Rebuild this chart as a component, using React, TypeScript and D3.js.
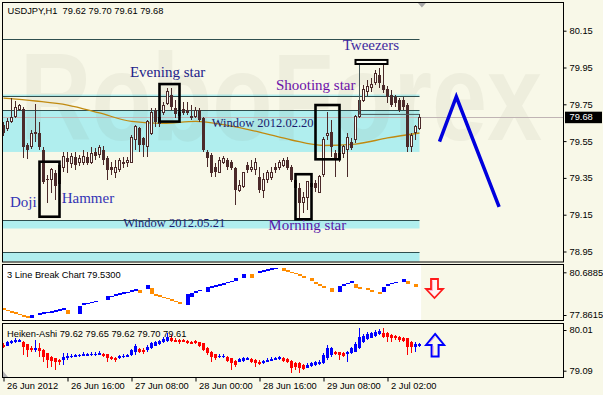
import React, { useRef, useEffect } from 'react';
import * as d3 from 'd3';

const W = 603;
const H = 395;

// USDJPY H1 candles: [open, high, low, close]
const candles: number[][] = [
  [79.638, 79.654, 79.578, 79.594], [79.616, 79.676, 79.605, 79.654], [79.654, 79.784, 79.648, 79.676],
  [79.681, 79.768, 79.676, 79.730], [79.724, 79.752, 79.714, 79.741], [79.724, 79.735, 79.458, 79.518],
  [79.529, 79.540, 79.453, 79.502], [79.518, 79.610, 79.507, 79.589], [79.589, 79.752, 79.545, 79.599],
  [79.594, 79.654, 79.502, 79.518], [79.502, 79.518, 79.317, 79.328], [79.344, 79.366, 79.214, 79.339],
  [79.339, 79.404, 79.268, 79.393], [79.377, 79.393, 79.230, 79.306], [79.317, 79.436, 79.306, 79.420],
  [79.409, 79.491, 79.382, 79.469], [79.458, 79.491, 79.377, 79.436], [79.426, 79.485, 79.404, 79.469],
  [79.464, 79.491, 79.393, 79.420], [79.436, 79.475, 79.415, 79.458], [79.436, 79.502, 79.420, 79.469],
  [79.464, 79.491, 79.420, 79.431], [79.431, 79.518, 79.426, 79.485], [79.491, 79.513, 79.447, 79.469],
  [79.475, 79.529, 79.458, 79.513], [79.502, 79.523, 79.420, 79.447], [79.458, 79.469, 79.339, 79.393],
  [79.409, 79.436, 79.366, 79.393], [79.377, 79.447, 79.350, 79.409], [79.393, 79.458, 79.382, 79.447],
  [79.426, 79.464, 79.404, 79.436], [79.431, 79.464, 79.409, 79.447], [79.436, 79.583, 79.431, 79.567],
  [79.556, 79.638, 79.502, 79.627], [79.621, 79.627, 79.491, 79.529], [79.567, 79.572, 79.464, 79.529],
  [79.518, 79.665, 79.464, 79.654], [79.594, 79.730, 79.583, 79.703], [79.719, 79.730, 79.627, 79.654],
  [79.648, 79.719, 79.627, 79.676], [79.703, 79.762, 79.692, 79.746], [79.757, 79.839, 79.746, 79.817],
  [79.801, 79.839, 79.719, 79.735], [79.730, 79.773, 79.676, 79.697], [79.708, 79.746, 79.670, 79.686],
  [79.724, 79.762, 79.692, 79.703], [79.719, 79.762, 79.692, 79.703], [79.686, 79.746, 79.665, 79.676],
  [79.681, 79.735, 79.676, 79.719], [79.719, 79.730, 79.654, 79.665], [79.676, 79.681, 79.491, 79.502],
  [79.491, 79.502, 79.409, 79.458], [79.475, 79.485, 79.355, 79.377], [79.409, 79.431, 79.355, 79.382],
  [79.382, 79.464, 79.377, 79.447], [79.436, 79.469, 79.426, 79.458], [79.447, 79.458, 79.393, 79.409],
  [79.436, 79.447, 79.393, 79.404], [79.404, 79.409, 79.203, 79.284], [79.284, 79.339, 79.273, 79.306],
  [79.301, 79.382, 79.295, 79.377], [79.420, 79.436, 79.377, 79.393], [79.393, 79.447, 79.382, 79.409],
  [79.393, 79.458, 79.366, 79.436], [79.355, 79.409, 79.268, 79.284], [79.284, 79.377, 79.241, 79.339],
  [79.339, 79.393, 79.322, 79.377], [79.350, 79.409, 79.339, 79.377], [79.409, 79.431, 79.377, 79.393],
  [79.409, 79.447, 79.393, 79.436], [79.420, 79.458, 79.409, 79.447], [79.447, 79.464, 79.393, 79.404],
  [79.409, 79.420, 79.328, 79.339], [79.339, 79.350, 79.284, 79.295], [79.295, 79.322, 79.132, 79.214],
  [79.219, 79.273, 79.159, 79.246], [79.241, 79.333, 79.176, 79.328], [79.322, 79.339, 79.284, 79.301],
  [79.322, 79.339, 79.273, 79.295], [79.273, 79.366, 79.268, 79.355], [79.366, 79.572, 79.355, 79.556],
  [79.578, 79.708, 79.556, 79.594], [79.599, 79.665, 79.464, 79.518], [79.485, 79.502, 79.355, 79.458],
  [79.485, 79.518, 79.436, 79.447], [79.485, 79.529, 79.458, 79.518], [79.502, 79.594, 79.355, 79.567],
  [79.545, 79.567, 79.502, 79.513], [79.556, 79.692, 79.540, 79.681], [79.681, 79.784, 79.676, 79.773],
  [79.773, 79.855, 79.762, 79.828], [79.817, 79.882, 79.795, 79.849], [79.839, 79.893, 79.817, 79.860],
  [79.866, 79.936, 79.855, 79.915], [79.909, 79.947, 79.839, 79.866], [79.855, 79.964, 79.811, 79.828],
  [79.833, 79.849, 79.757, 79.790], [79.801, 79.828, 79.735, 79.746], [79.790, 79.801, 79.735, 79.757],
  [79.773, 79.784, 79.708, 79.719], [79.773, 79.790, 79.719, 79.735], [79.746, 79.757, 79.491, 79.518],
  [79.518, 79.594, 79.491, 79.583], [79.599, 79.638, 79.556, 79.627], [79.62, 79.70, 79.61, 79.68],
];

// moving average, read every 8th bar
const maBars = [0, 8, 16, 24, 32, 40, 48, 56, 64, 72, 80, 88, 96, 104];
const maValues = [79.784, 79.768, 79.746, 79.703, 79.657, 79.646, 79.657, 79.635, 79.599, 79.556, 79.526, 79.534, 79.567, 79.594];

const levelLines = [80.10, 79.792, 79.719, 79.116, 78.947];
const windowZones = [[79.803, 79.792], [79.719, 79.491], [79.116, 79.075], [78.947, 78.893]];
const lastPrice = 79.68;

const priceTicks = [80.15, 79.95, 79.75, 79.55, 79.35, 79.15, 78.95];
const timeTicks = [0, 16, 32, 48, 64, 80, 96];
const timeLabels = ['26 Jun 2012', '26 Jun 16:00', '27 Jun 08:00', '28 Jun 00:00', '28 Jun 16:00', '29 Jun 08:00', '2 Jul 02:00'];

// pattern boxes: [first bar, last bar, top, bottom]
const patternBoxes = [
  [9, 14, 79.438, 79.139],
  [39, 44, 79.860, 79.656],
  [73, 77, 79.370, 79.125],
  [78, 84, 79.746, 79.451],
];
const tweezersBox = [88, 96, 79.991, 79.969];
const tweezersEdge = [[89, 79.969], [89, 79.695], [104, 79.695]];

// labels: [text, bar, price, colour, size]
const patternLabels: [string, number, number, string, number][] = [
  ['Evening star', 31.6, 79.900, '#22228a', 15],
  ['Shooting star', 68.1, 79.828, '#6c10a8', 15],
  ['Tweezers', 84.8, 80.045, '#3f2aa0', 15],
  ['Doji', 1.6, 79.190, '#3434b4', 15],
  ['Hammer', 14.55, 79.215, '#3434b4', 15],
  ['Window 2012.02.20', 52.05, 79.627, '#1c1c6e', 12.5],
  ['Window 2012.05.21', 29.95, 79.083, '#1c1c6e', 12.5],
  ['Morning star', 66.2, 79.067, '#5a18a8', 15],
];

const forecast = [[109, 79.547], [113.2, 79.791], [123.9, 79.192]];

// 3 Line Break bricks: [bar, top, bottom, up]
const lineBreak: [number, number, number, number][] = [
  [0, 78.305, 78.199, 0], [1, 78.219, 78.113, 0], [2, 78.126, 78.020, 0], [3, 78.040, 77.934, 0],
  [4, 77.954, 77.848, 0], [5, 77.862, 77.756, 0], [6, 77.775, 77.669, 0], [7, 77.862, 77.689, 1],
  [9, 77.994, 77.881, 1], [10, 78.040, 77.928, 1], [11, 78.087, 77.974, 1], [12, 78.140, 78.027, 1],
  [13, 78.193, 78.080, 1], [14, 78.259, 78.146, 1], [15, 78.325, 78.212, 1], [16, 78.193, 77.928, 0],
  [19, 78.477, 77.928, 1], [20, 78.636, 78.524, 1], [21, 78.676, 78.570, 1], [22, 78.742, 78.636, 1],
  [23, 78.808, 78.702, 1], [26, 79.139, 78.855, 1], [27, 79.139, 79.033, 1], [28, 79.232, 79.139, 1],
  [29, 79.298, 79.205, 1], [30, 79.364, 79.272, 1], [31, 79.404, 79.318, 1], [32, 79.497, 79.404, 1],
  [33, 79.563, 79.470, 1], [34, 79.497, 79.338, 0], [36, 79.848, 79.583, 1], [37, 79.629, 79.252, 0],
  [38, 79.252, 79.139, 0], [39, 79.166, 79.073, 0], [40, 79.073, 78.987, 0], [41, 78.987, 78.901, 0],
  [42, 78.901, 78.808, 0], [43, 78.808, 78.722, 0], [44, 78.702, 78.610, 0], [46, 79.232, 78.524, 1],
  [47, 79.298, 79.073, 1], [48, 79.450, 79.338, 1], [49, 79.536, 79.431, 1], [51, 79.715, 79.404, 1],
  [52, 79.762, 79.669, 1], [53, 79.828, 79.735, 1], [54, 79.894, 79.801, 1], [55, 79.960, 79.867, 1],
  [56, 80.046, 79.960, 1], [57, 80.133, 80.046, 1], [58, 80.331, 80.113, 1], [60, 80.576, 80.331, 1],
  [62, 80.576, 80.331, 0], [64, 80.775, 80.642, 1], [65, 80.841, 80.729, 1], [66, 80.907, 80.794, 1],
  [67, 80.953, 80.861, 1], [68, 80.993, 80.907, 1], [70, 80.953, 80.794, 0], [71, 80.821, 80.729, 0],
  [72, 80.729, 80.642, 0], [73, 80.642, 80.556, 0], [74, 80.556, 80.444, 0], [75, 80.444, 80.331, 0],
  [77, 80.291, 80.113, 0], [78, 80.066, 79.934, 0], [79, 79.914, 79.781, 0], [80, 79.762, 79.629, 0],
  [82, 79.669, 79.404, 0], [84, 79.801, 79.404, 1], [85, 79.894, 79.781, 1], [86, 79.980, 79.894, 1],
  [87, 80.113, 79.960, 1], [88, 79.934, 79.669, 0], [89, 79.695, 79.563, 0], [91, 79.629, 79.497, 0],
  [92, 79.517, 79.364, 0], [94, 79.364, 79.232, 0], [95, 79.735, 79.364, 1], [96, 79.894, 79.781, 1],
  [97, 80.000, 79.894, 1], [98, 80.066, 79.960, 1], [100, 80.225, 80.066, 1], [101, 80.113, 79.934, 0],
  [103, 79.934, 79.695, 0],
];
const lbTicks = [80.6885, 77.8615];

// Heiken-Ashi bars: [open, high, low, close]
const heikenAshi: number[][] = [
  [79.671, 79.709, 79.596, 79.633], [79.656, 79.761, 79.641, 79.731], [79.709, 79.784, 79.686, 79.761],
  [79.731, 79.837, 79.716, 79.776], [79.746, 79.807, 79.731, 79.776], [79.746, 79.761, 79.445, 79.633],
  [79.686, 79.701, 79.407, 79.558], [79.611, 79.656, 79.520, 79.558], [79.558, 79.784, 79.505, 79.611],
  [79.611, 79.709, 79.407, 79.535], [79.558, 79.573, 79.294, 79.407], [79.483, 79.490, 79.143, 79.332],
  [79.407, 79.423, 79.181, 79.310], [79.370, 79.385, 79.106, 79.294], [79.332, 79.355, 79.219, 79.279],
  [79.332, 79.483, 79.219, 79.407], [79.370, 79.483, 79.332, 79.430], [79.400, 79.460, 79.385, 79.430],
  [79.407, 79.475, 79.400, 79.445], [79.415, 79.475, 79.400, 79.445], [79.423, 79.505, 79.415, 79.460],
  [79.430, 79.490, 79.415, 79.460], [79.445, 79.520, 79.430, 79.475], [79.445, 79.505, 79.430, 79.475],
  [79.460, 79.535, 79.445, 79.490], [79.475, 79.490, 79.407, 79.430], [79.460, 79.475, 79.294, 79.370],
  [79.407, 79.423, 79.325, 79.355], [79.385, 79.400, 79.279, 79.340], [79.370, 79.445, 79.355, 79.415],
  [79.400, 79.460, 79.385, 79.430], [79.407, 79.475, 79.400, 79.445], [79.445, 79.573, 79.430, 79.558],
  [79.520, 79.686, 79.445, 79.656], [79.573, 79.611, 79.490, 79.505], [79.558, 79.596, 79.460, 79.520],
  [79.558, 79.671, 79.520, 79.633], [79.596, 79.731, 79.581, 79.709], [79.656, 79.761, 79.641, 79.731],
  [79.686, 79.784, 79.671, 79.761], [79.731, 79.859, 79.716, 79.807], [79.761, 79.935, 79.746, 79.859],
  [79.837, 79.897, 79.746, 79.761], [79.784, 79.822, 79.731, 79.746], [79.776, 79.807, 79.701, 79.731],
  [79.776, 79.807, 79.731, 79.746], [79.761, 79.784, 79.686, 79.716], [79.746, 79.761, 79.686, 79.701],
  [79.761, 79.776, 79.701, 79.716], [79.731, 79.746, 79.633, 79.656], [79.709, 79.716, 79.535, 79.558],
  [79.611, 79.633, 79.445, 79.483], [79.520, 79.535, 79.294, 79.407], [79.460, 79.475, 79.332, 79.370],
  [79.400, 79.460, 79.385, 79.430], [79.400, 79.460, 79.370, 79.430], [79.407, 79.430, 79.294, 79.310],
  [79.370, 79.385, 79.106, 79.257], [79.310, 79.325, 79.181, 79.219], [79.294, 79.385, 79.279, 79.355],
  [79.310, 79.407, 79.294, 79.370], [79.332, 79.407, 79.325, 79.370], [79.355, 79.385, 79.264, 79.294],
  [79.332, 79.355, 79.181, 79.257], [79.294, 79.325, 79.219, 79.249], [79.264, 79.340, 79.249, 79.310],
  [79.294, 79.370, 79.279, 79.332], [79.317, 79.400, 79.310, 79.355], [79.340, 79.407, 79.325, 79.385],
  [79.355, 79.430, 79.340, 79.400], [79.370, 79.400, 79.294, 79.310], [79.355, 79.370, 79.257, 79.279],
  [79.310, 79.325, 79.031, 79.159], [79.257, 79.279, 79.106, 79.181], [79.257, 79.279, 79.031, 79.143],
  [79.219, 79.234, 79.106, 79.129], [79.159, 79.257, 79.143, 79.219], [79.204, 79.294, 79.181, 79.257],
  [79.219, 79.310, 79.204, 79.279], [79.234, 79.332, 79.219, 79.294], [79.257, 79.483, 79.234, 79.445],
  [79.370, 79.671, 79.332, 79.596], [79.445, 79.633, 79.407, 79.596], [79.520, 79.535, 79.445, 79.460],
  [79.505, 79.520, 79.332, 79.445], [79.483, 79.505, 79.407, 79.430], [79.460, 79.535, 79.294, 79.505],
  [79.483, 79.633, 79.460, 79.596], [79.520, 79.731, 79.505, 79.686], [79.596, 80.048, 79.581, 79.859],
  [79.731, 79.912, 79.709, 79.882], [79.807, 79.957, 79.784, 79.912], [79.837, 79.972, 79.822, 79.935],
  [79.882, 80.010, 79.859, 79.972], [79.912, 80.033, 79.897, 79.987], [79.935, 80.063, 79.837, 79.859],
  [79.935, 79.957, 79.746, 79.859], [79.897, 79.912, 79.731, 79.837], [79.882, 79.897, 79.784, 79.822],
  [79.859, 79.882, 79.731, 79.784], [79.837, 79.859, 79.731, 79.761], [79.822, 79.837, 79.445, 79.633],
  [79.746, 79.761, 79.483, 79.633], [79.633, 79.731, 79.520, 79.686], [79.641, 79.716, 79.626, 79.686],
];
const haTicks = [80.01, 79.09];

function App() {
  const svgRef = useRef<SVGSVGElement>(null);

  useEffect(() => {
    const svg = d3.select(svgRef.current);
    svg.selectAll('*').remove();

    const bg = '#f8f8e8';
    const ink = '#4b2a2a';
    const font = 'Liberation Sans, Arial, sans-serif';
    const left = 2.5;
    const right = 563.5;

    const x = d3.scaleLinear().domain([0, 1]).range([3.5, 7.5]);
    const y = d3.scaleLinear().domain([78.95, 80.15]).range([251.5, 30.7]);
    const yLb = d3.scaleLinear().domain([77.8615, 80.6885]).range([315, 272.3]);
    const yHa = d3.scaleLinear().domain([79.09, 80.01]).range([370.7, 330]);
    const crisp = (v: number) => Math.round(v - 0.5) + 0.5;

    svg.append('rect').attr('width', W).attr('height', H).attr('fill', bg);

    svg.append('defs').append('clipPath').attr('id', 'mainclip')
      .append('rect').attr('x', 3).attr('y', 3).attr('width', 560).attr('height', 258.5);

    const main = svg.append('g').attr('clip-path', 'url(#mainclip)');

    // window zones
    windowZones.forEach(([a, b]) => {
      main.append('rect')
        .attr('x', left).attr('y', y(a))
        .attr('width', x(104) - left).attr('height', y(b) - y(a))
        .attr('fill', '#b0eeee');
    });

    // watermark
    main.append('text')
      .attr('x', 20).attr('y', 140)
      .attr('font-family', font).attr('font-weight', 'bold').attr('font-size', 125)
      .attr('textLength', 522).attr('lengthAdjust', 'spacingAndGlyphs')
      .attr('fill', '#6b6b50').attr('opacity', 0.065)
      .text('RoboForex');

    levelLines.forEach(v => {
      main.append('line')
        .attr('x1', left).attr('x2', x(104))
        .attr('y1', crisp(y(v))).attr('y2', crisp(y(v)))
        .attr('stroke', '#2f4f4f').attr('stroke-width', 1);
    });

    // current price line
    main.append('line')
      .attr('x1', left).attr('x2', right)
      .attr('y1', crisp(y(lastPrice))).attr('y2', crisp(y(lastPrice)))
      .attr('stroke', '#c0b4b4');

    // moving average
    const ma = d3.line<number>()
      .x((d, i) => x(maBars[i]))
      .y(d => y(d))
      .curve(d3.curveMonotoneX);
    main.append('path').datum(maValues)
      .attr('d', ma).attr('fill', 'none')
      .attr('stroke', '#c08a10').attr('stroke-width', 1.3);

    // candles
    const cg = main.append('g').attr('shape-rendering', 'crispEdges');
    candles.forEach((d, i) => {
      const [o, h, l, c] = d;
      const cx = x(i);
      cg.append('line')
        .attr('x1', cx).attr('x2', cx).attr('y1', y(h)).attr('y2', y(l))
        .attr('stroke', ink);
      const top = y(Math.max(o, c));
      const bot = y(Math.min(o, c));
      if (c > o) {
        cg.append('rect')
          .attr('x', cx - 1).attr('y', top)
          .attr('width', 2).attr('height', Math.max(bot - top, 1))
          .attr('fill', '#fcfcf4').attr('stroke', ink);
      } else {
        cg.append('rect')
          .attr('x', cx - 1.5).attr('y', top)
          .attr('width', 3).attr('height', Math.max(bot - top, 1))
          .attr('fill', ink);
      }
    });

    // pattern boxes
    patternBoxes.forEach(([a, b, t, u]) => {
      main.append('rect')
        .attr('x', x(a)).attr('y', y(t))
        .attr('width', x(b) - x(a)).attr('height', y(u) - y(t))
        .attr('fill', 'none').attr('stroke', '#000').attr('stroke-width', 2.6);
    });
    main.append('path')
      .attr('d', d3.line<number[]>().x(d => x(d[0])).y(d => y(d[1]))(tweezersEdge))
      .attr('fill', 'none').attr('stroke', '#4a5c5c').attr('stroke-width', 1);
    main.append('rect')
      .attr('x', x(tweezersBox[0])).attr('y', y(tweezersBox[2]))
      .attr('width', x(tweezersBox[1]) - x(tweezersBox[0]))
      .attr('height', y(tweezersBox[3]) - y(tweezersBox[2]))
      .attr('fill', '#fcfcf4').attr('stroke', '#000').attr('stroke-width', 2);

    patternLabels.forEach(([t, b, v, col, size]) => {
      main.append('text')
        .attr('x', x(b)).attr('y', y(v))
        .attr('font-family', 'Liberation Serif, Times New Roman, serif')
        .attr('font-size', size).attr('fill', col)
        .text(t);
    });

    // forecast zigzag
    main.append('path')
      .attr('d', d3.line<number[]>().x(d => x(d[0])).y(d => y(d[1]))(forecast))
      .attr('fill', 'none').attr('stroke', '#0000dd')
      .attr('stroke-width', 3.5).attr('stroke-linejoin', 'miter');

    // shift marker
    const mx = x(104.6);
    svg.append('path')
      .attr('d', `M${mx - 4},3 L${mx + 4},3 L${mx},7.5 Z`)
      .attr('fill', '#a8a8a8');

    // title
    svg.append('text')
      .attr('x', 7.5).attr('y', 14)
      .attr('font-family', font).attr('font-size', 9.3).attr('fill', '#000')
      .attr('xml:space', 'preserve')
      .text('USDJPY,H1  79.62 79.70 79.61 79.68');

    // ---- 3 Line Break panel
    svg.append('rect')
      .attr('x', 3).attr('y', 265)
      .attr('width', x(104.4) - 3).attr('height', 55)
      .attr('fill', '#ffffff');
    const lbG = svg.append('g').attr('shape-rendering', 'crispEdges');
    lineBreak.forEach(([b, t, u, up]) => {
      lbG.append('rect')
        .attr('x', x(b) - 1.5).attr('y', yLb(t))
        .attr('width', 3.5).attr('height', Math.max(yLb(u) - yLb(t), 1.3))
        .attr('fill', up ? '#0000ff' : '#ff8c00');
    });
    svg.append('text')
      .attr('x', 7).attr('y', 277.7)
      .attr('font-family', font).attr('font-size', 9.3).attr('fill', '#000')
      .text('3 Line Break Chart 79.5300');

    // down arrow
    const ax = x(107.75);
    const ay = yLb(80.245);
    svg.append('path')
      .attr('d', `M${ax - 3.5},${ay} H${ax + 3.5} V${ay + 10} H${ax + 8.5} L${ax},${ay + 19} L${ax - 8.5},${ay + 10} H${ax - 3.5} Z`)
      .attr('fill', '#fff4f4').attr('stroke', '#ff1a1a').attr('stroke-width', 1.8);
    svg.append('path')
      .attr('d', `M${ax - 2},${ay + 1.5} V${ay + 11.5} H${ax - 5}`)
      .attr('fill', 'none').attr('stroke', '#ffa0c8').attr('stroke-width', 0.8);

    // ---- Heiken-Ashi panel
    const haG = svg.append('g').attr('shape-rendering', 'crispEdges');
    heikenAshi.forEach((d, i) => {
      const [o, h, l, c] = d;
      const cx = x(i);
      const col = c >= o ? '#0000ff' : '#ff0000';
      haG.append('line')
        .attr('x1', cx).attr('x2', cx).attr('y1', yHa(h)).attr('y2', yHa(l))
        .attr('stroke', col);
      const top = yHa(Math.max(o, c));
      const bot = yHa(Math.min(o, c));
      haG.append('rect')
        .attr('x', cx - 1.5).attr('y', top)
        .attr('width', 3).attr('height', Math.max(bot - top, 1.5))
        .attr('fill', col);
    });
    svg.append('text')
      .attr('x', 7).attr('y', 336.7)
      .attr('font-family', font).attr('font-size', 9.3).attr('fill', '#000')
      .text('Heiken-Ashi 79.62 79.65 79.62 79.70 79.61');

    // up arrow
    const ux = x(107.9);
    const uy = yHa(79.92);
    svg.append('path')
      .attr('d', `M${ux},${uy} L${ux + 9},${uy + 11} H${ux + 3.5} V${uy + 22.5} H${ux - 3.5} V${uy + 11} H${ux - 9} Z`)
      .attr('fill', bg).attr('stroke', '#0000ff').attr('stroke-width', 2);
    svg.append('path')
      .attr('d', `M${ux - 6},${uy + 9.5} L${ux},${uy + 2.5} M${ux - 2},${uy + 12} V${uy + 21}`)
      .attr('fill', 'none').attr('stroke', '#e080e0').attr('stroke-width', 0.8);

    svg.append('path')
      .attr('d', 'M3,371 L3,377 L8,377 Z')
      .attr('fill', '#b4b4b4');

    // panel frames
    [[2.5, 259.5], [264.5, 56], [323.5, 54]].forEach(([top, h]) => {
      svg.append('rect')
        .attr('x', left).attr('y', top)
        .attr('width', right - left).attr('height', h)
        .attr('fill', 'none').attr('stroke', '#000');
    });

    // right axes
    const addAxis = (scale: d3.ScaleLinear<number, number>, ticks: number[], fmt: string) => {
      const g = svg.append('g')
        .attr('transform', `translate(${right},0)`)
        .call(d3.axisRight(scale).tickValues(ticks).tickSize(3).tickPadding(3).tickFormat(d3.format(fmt)));
      g.select('.domain').remove();
      g.attr('font-family', font).attr('font-size', 9.3);
      g.selectAll('line').attr('stroke', '#000');
      g.selectAll('text').attr('fill', '#000');
    };
    addAxis(y, priceTicks, '.2f');
    addAxis(yLb, lbTicks, '.4f');
    addAxis(yHa, haTicks, '.2f');

    // last price tag
    svg.append('rect')
      .attr('x', 565).attr('y', y(lastPrice) - 5.5)
      .attr('width', 37).attr('height', 11.5)
      .attr('fill', '#000');
    svg.append('text')
      .attr('x', 569.5).attr('y', y(lastPrice)).attr('dy', '0.34em')
      .attr('font-family', font).attr('font-size', 9.3).attr('fill', '#fff')
      .text(d3.format('.2f')(lastPrice));

    // time axis
    const tAxis = svg.append('g')
      .attr('transform', 'translate(0,377.5)')
      .call(d3.axisBottom(x).tickValues(timeTicks).tickSize(4)
        .tickFormat((d, i) => timeLabels[i]));
    tAxis.select('.domain').remove();
    tAxis.attr('font-family', font).attr('font-size', 9.3);
    tAxis.selectAll('line').attr('stroke', '#000');
    tAxis.selectAll('text')
      .attr('fill', '#000').attr('text-anchor', 'start')
      .attr('x', 3).attr('y', 11.5).attr('dy', 0);
  }, []);

  return (
    <svg ref={svgRef} width={W} height={H}
      style={{ position: 'absolute', left: 0, top: 0, display: 'block' }} />
  );
}

export default App;
